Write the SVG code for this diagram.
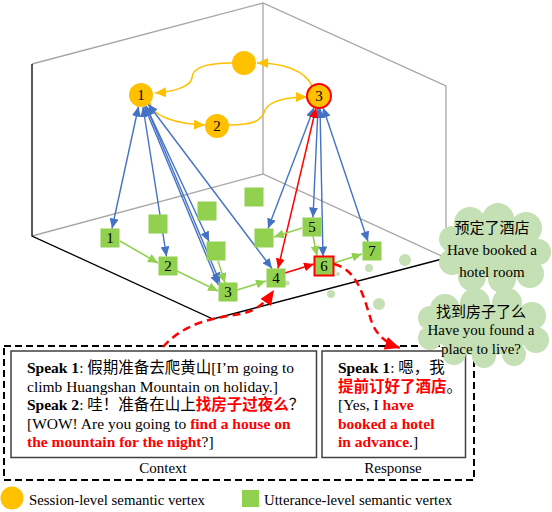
<svg xmlns="http://www.w3.org/2000/svg" width="552" height="512" viewBox="0 0 552 512">
<style>
.t{font-family:"Liberation Serif","Noto Sans CJK SC",serif;font-size:15.5px;fill:#000}
.lab{font-family:"Liberation Serif","Noto Sans CJK SC",serif;font-size:15px;fill:#000;text-anchor:middle}
.lg{font-family:"Liberation Serif","Noto Sans CJK SC",serif;font-size:14.8px;fill:#000}
.b{font-weight:bold}
.r{fill:#FF0000;font-weight:bold}
.grey{stroke:#A6A6A6;stroke-width:1.3;fill:none}
.blk{stroke:#000;stroke-width:1.3;fill:none}
.ses{fill:#FFC000}
.utt{fill:#92D050}
.oe{stroke:#FFC000;stroke-width:1.5;fill:none;marker-end:url(#ao)}
.be{stroke:#4472C4;stroke-width:1.4;fill:none;marker-start:url(#ab);marker-end:url(#ab)}
.ge{stroke:#92D050;stroke-width:1.5;fill:none;marker-end:url(#ag)}
.rd{stroke:#FF0000;stroke-width:2.5;fill:none;stroke-dasharray:8 5}
.cl{fill:#C5E0B4}
</style>
<defs>
<marker id="ao" markerUnits="userSpaceOnUse" markerWidth="12" markerHeight="10" refX="11" refY="5" orient="auto-start-reverse"><path d="M0,0 L11,5 L0,10 Z" fill="#FFC000"/></marker>
<marker id="ab" markerUnits="userSpaceOnUse" markerWidth="11" markerHeight="9" refX="10" refY="4.5" orient="auto-start-reverse"><path d="M0,0 L10,4.5 L0,9 Z" fill="#4472C4"/></marker>
<marker id="ag" markerUnits="userSpaceOnUse" markerWidth="11" markerHeight="9" refX="10" refY="4.5" orient="auto-start-reverse"><path d="M0,0 L10,4.5 L0,9 Z" fill="#92D050"/></marker>
<marker id="ar" markerUnits="userSpaceOnUse" markerWidth="11" markerHeight="9" refX="10" refY="4.5" orient="auto-start-reverse"><path d="M0,0 L10,4.5 L0,9 Z" fill="#FF0000"/></marker>
<marker id="arb" markerUnits="userSpaceOnUse" markerWidth="16" markerHeight="13" refX="15" refY="6.5" orient="auto"><path d="M0,0 L15,6.5 L0,13 Z" fill="#FF0000"/></marker>
</defs>

<g id="box">
<path class="grey" d="M32,64 L263,3 L446,86 L446,258"/>
<path class="grey" d="M263,3 L263,174 M32,236 L263,174 L446,258"/>
<path class="blk" d="M32,64 L32,236 L213,319 L446,258"/>
</g>

<g id="dots" class="cl">
<circle cx="405" cy="260" r="6"/>
<circle cx="369" cy="268" r="4"/>
<circle cx="338" cy="274" r="2"/>
<circle cx="331" cy="294" r="4"/>
<circle cx="379" cy="304" r="6"/>
<circle cx="287" cy="283" r="2.5"/>
</g>

<g id="frame">
<rect x="4" y="346" width="470" height="134" fill="none" stroke="#000" stroke-width="2" stroke-dasharray="7 4"/>
</g>

<g id="context">
<rect x="11" y="351" width="305.5" height="106.5" fill="#fff" stroke="#404040" stroke-width="1.5"/>
<text class="t" x="27" y="373"><tspan class="b">Speak 1</tspan>: 假期准备去爬黄山[I’m going to</text>
<text class="t" x="27" y="391.5">climb Huangshan Mountain on holiday.]</text>
<text class="t" x="27" y="410"><tspan class="b">Speak 2</tspan>: 哇！准备在山上<tspan class="r">找房子过夜么</tspan>？</text>
<text class="t" x="27" y="428.5">[WOW! Are you going to <tspan class="r">find a house on</tspan></text>
<text class="t" x="27" y="447"><tspan class="r">the mountain for the night</tspan>?]</text>
<text class="lab" x="163" y="473">Context</text>
</g>

<g id="response">
<rect x="322" y="351" width="143.5" height="106.5" fill="#fff" stroke="#404040" stroke-width="1.5"/>
<text class="t" x="338" y="373"><tspan class="b">Speak 1</tspan>: 嗯，我</text>
<text class="t" x="338" y="391.5"><tspan class="r">提前订好了酒店</tspan>。</text>
<text class="t" x="338" y="410">[Yes, I <tspan class="r">have</tspan></text>
<text class="t" x="338" y="428.5"><tspan class="r">booked a hotel</tspan></text>
<text class="t" x="338" y="447"><tspan class="r">in advance</tspan>.]</text>
<text class="lab" x="393" y="473">Response</text>
</g>

<g id="connectors">
<path class="oe" d="M150,103 C152,116 176,124 205,125"/>
<path class="oe" d="M229,125 C255,125 262,120 265,110 C270,100 290,97 307,97"/>
<path class="oe" d="M312,86 C305,70 282,63 257,63"/>
<path class="oe" d="M232,63 C205,63 192,68 192,78 C190,88 170,92 155,93"/>

<path class="be" d="M138.5,106.5 L112,228.5"/>
<path class="be" d="M143,107 L166.5,256.5"/>
<path class="be" d="M146,106 L209,241.5"/>
<path class="be" d="M144.5,106.5 L218.5,285"/>
<path class="be" d="M146,106 L220,282.5"/>
<path class="be" d="M148,104 L272,268.5"/>

<path class="be" d="M314,107.5 L268,228.5"/>
<path class="be" d="M318,108 L313,217.5"/>
<path class="be" d="M320,108 L323,256.5"/>
<path class="be" d="M323,107.5 L368,241.5"/>
<path d="M316,108 L278,268.5" stroke="#FF0000" stroke-width="1.5" fill="none" marker-start="url(#ar)" marker-end="url(#ar)"/>

<path class="ge" d="M120,241 L158,263"/>
<path class="ge" d="M177,271 L218,291"/>
<path class="ge" d="M218,261 L225,283"/>
<path class="ge" d="M237,290 L266,281"/>
<path class="ge" d="M302,228 L274,237"/>
<path class="ge" d="M313,236 L317,256"/>
<path class="ge" d="M334,263 L362,254"/>
<path d="M285,273 L314,264" stroke="#FF0000" stroke-width="1.5" fill="none" marker-end="url(#ar)"/>

<path class="rd" d="M163,347 C185,322 215,318 240,314 C255,311 264,305 274,290" marker-end="url(#arb)"/>
<path class="rd" d="M334,264 C358,270 364,298 371,320 C376,336 388,344 400,348" marker-end="url(#arb)"/>
</g>

<g id="s1"><circle class="ses" cx="141" cy="95" r="12"/><text class="lab" x="141" y="100">1</text></g>
<g id="s2"><circle class="ses" cx="217" cy="126" r="12"/><text class="lab" x="217" y="131">2</text></g>
<g id="s0"><circle class="ses" cx="244" cy="63" r="12"/></g>
<g id="s3"><circle class="ses" cx="319" cy="96" r="12" stroke="#FF0000" stroke-width="2"/><text class="lab" x="319" y="101">3</text></g>

<g id="u1"><rect class="utt" x="100.5" y="228.5" width="19" height="19"/><text class="lab" x="110" y="243">1</text></g>
<g id="u2"><rect class="utt" x="158.5" y="256.5" width="19" height="19"/><text class="lab" x="168" y="271">2</text></g>
<g id="u3"><rect class="utt" x="218.5" y="282.5" width="19" height="19"/><text class="lab" x="228" y="297">3</text></g>
<g id="u4"><rect class="utt" x="266.5" y="268.5" width="19" height="19"/><text class="lab" x="276" y="283">4</text></g>
<g id="u5"><rect class="utt" x="302.5" y="217.5" width="19" height="19"/><text class="lab" x="312" y="232">5</text></g>
<g id="u6"><rect class="utt" x="314.5" y="256.5" width="19" height="19" stroke="#FF0000" stroke-width="2"/><text class="lab" x="324" y="271">6</text></g>
<g id="u7"><rect class="utt" x="362.5" y="241.5" width="19" height="19"/><text class="lab" x="372" y="256">7</text></g>
<g id="ua"><rect class="utt" x="148.5" y="214.5" width="19" height="19"/></g>
<g id="ub"><rect class="utt" x="197.5" y="201.5" width="19" height="19"/></g>
<g id="uc"><rect class="utt" x="244.5" y="187.5" width="19" height="19"/></g>
<g id="ud"><rect class="utt" x="206.5" y="241.5" width="19" height="19"/></g>
<g id="ue"><rect class="utt" x="254.5" y="228.5" width="19" height="19"/></g>

<g id="cloud1" class="cl">
<circle cx="470" cy="223" r="16"/><circle cx="498" cy="219" r="16"/><circle cx="526" cy="228" r="16"/>
<circle cx="538" cy="252" r="13"/><circle cx="530" cy="274" r="14"/><circle cx="502" cy="279" r="14"/>
<circle cx="472" cy="277" r="14"/><circle cx="452" cy="262" r="13"/><circle cx="452" cy="239" r="13"/>
<ellipse cx="495" cy="250" rx="45" ry="28"/>
<text class="lab" x="492" y="233">预定了酒店</text>
<text class="lab" x="492" y="255">Have booked a</text>
<text class="lab" x="492" y="277">hotel room</text>
</g>

<g id="cloud2" class="cl">
<circle cx="445" cy="309" r="15"/><circle cx="475" cy="303" r="15"/><circle cx="507" cy="303" r="15"/>
<circle cx="532" cy="316" r="14"/><circle cx="536" cy="340" r="13"/><circle cx="514" cy="354" r="12"/>
<circle cx="484" cy="356" r="12"/><circle cx="454" cy="353" r="12"/><circle cx="430" cy="338" r="12"/>
<circle cx="430" cy="318" r="12"/>
<ellipse cx="483" cy="330" rx="50" ry="26"/>
<text class="lab" x="481" y="317">找到房子了么</text>
<text class="lab" x="481" y="335">Have you found a</text>
<text class="lab" x="481" y="354">place to live?</text>
</g>

<g id="legend">
<circle class="ses" cx="12" cy="498" r="11.5"/>
<text class="lg" x="29" y="505">Session-level semantic vertex</text>
<rect class="utt" x="242" y="490" width="17" height="17"/>
<text class="lg" x="264" y="505">Utterance-level semantic vertex</text>
</g>
</svg>
